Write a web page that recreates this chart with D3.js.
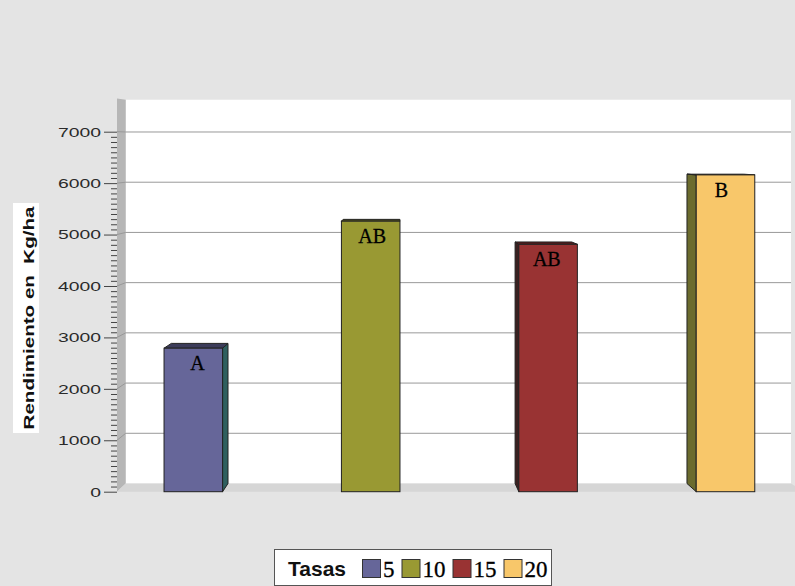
<!DOCTYPE html>
<html><head><meta charset="utf-8">
<script src="https://cdn.jsdelivr.net/npm/d3@7"></script>
<style>body{margin:0;background:#e4e4e4;} svg{display:block}</style>
</head><body><svg id="c" width="795" height="586"></svg>
<script>
// ---- data ----
const categories = ["5", "10", "15", "20"];
const values = [2790, 5260, 4810, 6160];
const barLabels = ["A", "AB", "AB", "B"];
const tickValues = [0, 1000, 2000, 3000, 4000, 5000, 6000, 7000];
const legendTitle = "Tasas";
const yTitle = "Rendimiento en  Kg/ha";

// ---- style ----
const colors = ["#666699", "#999933", "#993333", "#f8c76a"];
const sideColors = ["#2f5f5f", "#5c5c26", "#3a2020", "#6b6b2e"];

const W = 795, H = 586;
const svg = d3.select("#c");
svg.append("rect").attr("width", W).attr("height", H).attr("fill", "#e4e4e4");

const y = d3.scaleLinear().domain([0, 7000]).range([491.7, 131.7]);
const x = d3.scaleBand().domain(categories).range([104.6, 814.2])
  .paddingInner(0.67).paddingOuter(0.335);

// pseudo-perspective depth projection
const VP = {x: 398, y: 144.4}, KX = 0.031, KY = 0.0236;
function P(px, py, z) { return [px + z * KX * (VP.x - px), py + z * KY * (VP.y - py)]; }

const frontL = 117, frontR = 803.6;
const yTopF = y(7640), yBot = y(0);
const poly = pts => "M" + pts.map(p => p.join(",")).join("L") + "Z";

// back wall
svg.append("path").attr("d", poly([P(frontL, yTopF, 1), P(frontR, yTopF, 1), P(frontR, yBot, 1), P(frontL, yBot, 1)]))
  .attr("fill", "#ffffff");
// left wall
svg.append("path").attr("d", poly([[frontL, yTopF - 0.3], P(frontL, yTopF, 1), P(frontL, yBot, 1), [frontL, yBot]]))
  .attr("fill", "#b6b6b6");
// floor
svg.append("path").attr("d", poly([[frontL, yBot], [frontR, yBot], P(frontR, yBot, 1), P(frontL, yBot, 1)]))
  .attr("fill", "#d6d6d6");

// gridlines
svg.append("g").selectAll("path").data(tickValues.filter(v => v > 0)).join("path")
  .attr("d", v => { const a = [frontL, y(v)], b = P(frontL, y(v), 1), c = P(frontR, y(v), 1);
    return "M" + a + "L" + b + "L" + c; })
  .attr("fill", "none").attr("stroke", "#999").attr("stroke-width", 1);

// axis: major ticks + labels
const axMajor = svg.append("g").attr("transform", `translate(${frontL},0)`)
  .call(d3.axisLeft(y).tickValues(tickValues).tickSize(13).tickPadding(3).tickFormat(d3.format("d")));
axMajor.select(".domain").remove();
axMajor.selectAll(".tick line").attr("stroke", "#444");
axMajor.selectAll(".tick text")
  .attr("font-family", "Liberation Sans, Arial, sans-serif").attr("font-size", 13.5)
  .attr("fill", "#2a2a2a")
  .each(function(d) { const t = String(d); d3.select(this).attr("textLength", 10.75 * t.length).attr("lengthAdjust", "spacingAndGlyphs"); });

// minor ticks
const minorVals = d3.range(100, 7000, 100).filter(v => v % 1000 !== 0);
const axMinor = svg.append("g").attr("transform", `translate(${frontL},0)`)
  .call(d3.axisLeft(y).tickValues(minorVals).tickSize(6).tickFormat(""));
axMinor.select(".domain").remove();
axMinor.selectAll(".tick line").attr("stroke", "#444");

// bars
const bw = x.bandwidth();
const bars = svg.append("g");
categories.forEach((c, i) => {
  const x0 = x(c), x1 = x0 + bw, yt = y(values[i]), yb = y(0);
  if (x1 < VP.x) {
    bars.append("path").attr("d", poly([[x1, yt], P(x1, yt, 1), P(x1, yb, 1), [x1, yb]]))
      .attr("fill", sideColors[i]).attr("stroke", "#222").attr("stroke-width", 1);
  } else if (x0 > VP.x) {
    bars.append("path").attr("d", poly([[x0, yt], P(x0, yt, 1), P(x0, yb, 1), [x0, yb]]))
      .attr("fill", sideColors[i]).attr("stroke", "#222").attr("stroke-width", 1);
  }
  if (yt > VP.y) {
    bars.append("path").attr("d", poly([[x0, yt], [x1, yt], P(x1, yt, 1), P(x0, yt, 1)]))
      .attr("fill", d3.color(colors[i]).darker(1.5)).attr("stroke", "#222").attr("stroke-width", 1);
  }
  bars.append("rect").attr("x", x0).attr("y", yt).attr("width", bw).attr("height", yb - yt)
    .attr("fill", colors[i]).attr("stroke", "#222").attr("stroke-width", 1);
  bars.append("text").attr("x", P(x0 + bw / 2, yt, 0.5)[0] + 1).attr("y", yt + 22)
    .attr("text-anchor", "middle").attr("font-family", "Liberation Serif, Times New Roman, serif")
    .attr("font-size", 20).attr("fill", "#000").attr("stroke", "#000").attr("stroke-width", 0.3)
    .text(barLabels[i]);
});

// y title
svg.append("rect").attr("x", 13).attr("y", 203).attr("width", 26).attr("height", 230).attr("fill", "#fff");
svg.append("text").attr("transform", "translate(33.5,318) rotate(-90)")
  .attr("text-anchor", "middle").attr("font-family", "Liberation Sans, Arial, sans-serif")
  .attr("font-weight", "bold").attr("font-size", 15).attr("fill", "#111")
  .attr("textLength", 223).attr("lengthAdjust", "spacingAndGlyphs")
  .style("white-space", "pre").text(yTitle);

// legend
const lg = svg.append("g");
lg.append("rect").attr("x", 274.5).attr("y", 549.5).attr("width", 277).attr("height", 36)
  .attr("fill", "#fff").attr("stroke", "#555");
lg.append("text").attr("x", 288).attr("y", 576).attr("font-family", "Liberation Sans, Arial, sans-serif")
  .attr("font-weight", "bold").attr("font-size", 21).attr("fill", "#111").text(legendTitle);
let sx = 362;
categories.forEach((c, i) => {
  lg.append("rect").attr("x", sx + 0.5).attr("y", 559.5).attr("width", 18).attr("height", 18)
    .attr("fill", colors[i]).attr("stroke", "#333");
  const lx = sx + 21;
  lg.append("text").attr("x", lx).attr("y", 577.3).attr("font-family", "Liberation Serif, Times New Roman, serif")
    .attr("font-size", 23).attr("fill", "#000").attr("stroke", "#000").attr("stroke-width", 0.3).text(c);
  sx = lx + 11.5 * c.length + 7;
});
</script>
</body></html>
